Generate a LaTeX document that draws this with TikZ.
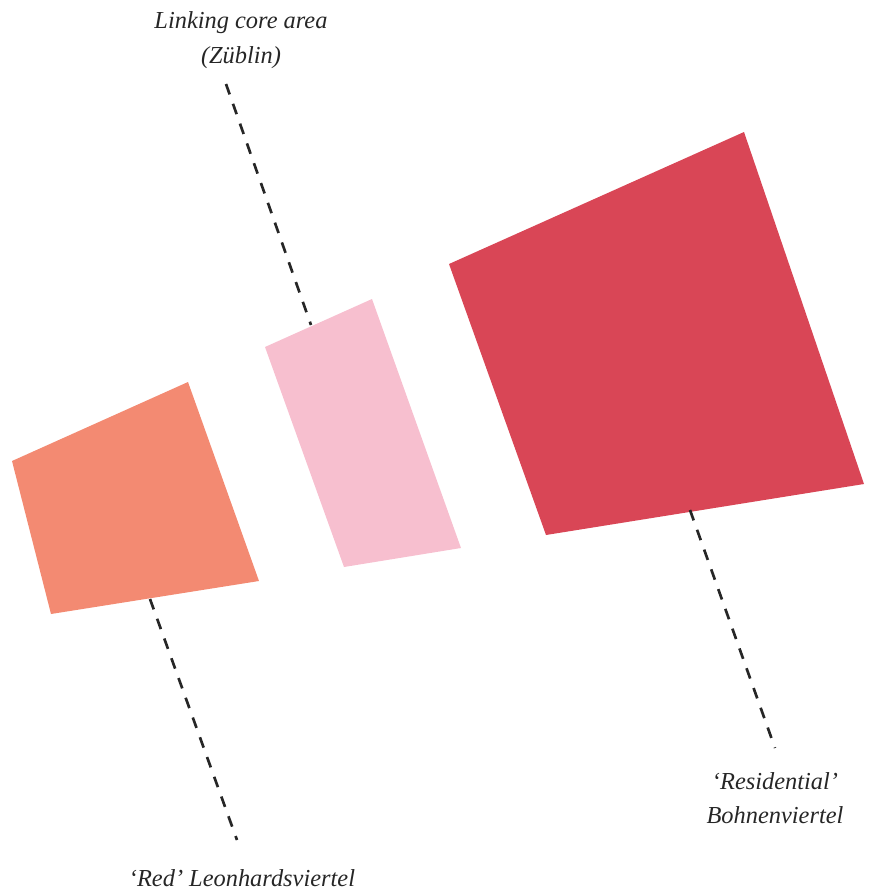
\documentclass[tikz,border=0pt]{standalone}
\usepackage{fontspec}
\setmainfont{Liberation Serif}
\usetikzlibrary{positioning}
\definecolor{leonhard}{HTML}{F38A72}
\definecolor{zueblin}{HTML}{F7BFCF}
\definecolor{bohnen}{HTML}{D94656}
\tikzset{
  block/.style={draw=none},
  leader/.style={draw=black!85,line width=2pt,dash pattern=on 8.25pt off 7.5pt},
  lbl/.style={font=\fontsize{18.3}{26}\selectfont\itshape,align=center,inner sep=0pt,text=black!85}
}
\begin{document}
\begin{tikzpicture}[x=0.75pt,y=-0.75pt]
\useasboundingbox (0,0) rectangle (878,890);
% Drawing areas
\fill[block,leonhard] (12,461) -- (188,382) -- (259,581) -- (51,614) -- cycle;
\fill[block,zueblin] (265,347) -- (372,299) -- (461,548) -- (344,567) -- cycle;
\fill[block,bohnen] (449,264) -- (744,132) -- (864,484) -- (546,535) -- cycle;
% Drawing labels
\node[lbl] (core) at (241,40) {Linking core area\\(Züblin)};
\node[lbl] (resid) at (775,798) {`Residential'\\Bohnenviertel};
\node[lbl] (leon) at (242,878) {`Red' Leonhardsviertel};
% Done with labels; drawing leaders
\coordinate (coreA) at (226,84);
\coordinate (coreB) at (311,325);
\coordinate (residA) at (690,510);
\coordinate (residB) at (775,748);
\coordinate (leonA) at (150,599);
\coordinate (leonB) at (237,840);
\draw[leader] (coreA) -- (coreB);
\draw[leader] (residA) -- (residB);
\draw[leader] (leonA) -- (leonB);
% Done with leaders
\end{tikzpicture}
\end{document}
